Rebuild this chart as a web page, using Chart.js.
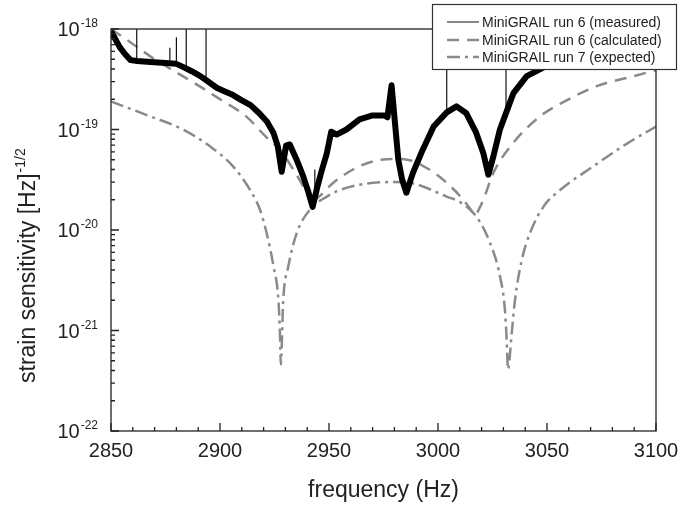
<!DOCTYPE html>
<html>
<head>
<meta charset="utf-8">
<script src="https://cdn.jsdelivr.net/npm/chart.js@4.4.1/dist/chart.umd.min.js"></script>
<style>
html, body { margin: 0; padding: 0; background: #fff; }
</style>
</head>
<body>
<canvas id="chart1" width="679" height="507"></canvas>
<script>
// MiniGRAIL run 6 (measured)
var measFreq = [2850, 2852, 2854, 2856.5, 2859, 2862, 2868, 2875, 2880, 2883,
    2887, 2891, 2895, 2898.5, 2902, 2906, 2910, 2914, 2918, 2921.5,
    2924.5, 2926.5, 2928.3, 2930.3, 2932, 2935, 2938, 2940.5, 2942.5, 2944.5,
    2946.5, 2949, 2951, 2953.5, 2958, 2964, 2970, 2975.5, 2976.8, 2978.7,
    2980.2, 2981.8, 2983.5, 2985.5, 2988.5, 2993, 2998, 3004, 3008.5, 3013,
    3017.5, 3020.8, 3023.1, 3025.4, 3028.4, 3034.6, 3040.7, 3049.8, 3056, 3063,
    3070, 3078, 3085];
var measVal = [9.5e-19, 7.9e-19, 6.6e-19, 5.6e-19, 4.9e-19, 4.8e-19, 4.7e-19, 4.6e-19, 4.5e-19, 4.2e-19,
    3.8e-19, 3.4e-19, 2.95e-19, 2.6e-19, 2.4e-19, 2.2e-19, 1.95e-19, 1.75e-19, 1.45e-19, 1.2e-19,
    9.3e-20, 6.8e-20, 3.8e-20, 6.9e-20, 7.1e-20, 5.1e-20, 3.5e-20, 2.4e-20, 1.7e-20, 2.6e-20,
    3.8e-20, 5.8e-20, 9.5e-20, 8.9e-20, 1.0e-19, 1.26e-19, 1.38e-19, 1.38e-19, 1.32e-19, 2.75e-19,
    1.2e-19, 5.0e-20, 3.2e-20, 2.35e-20, 3.7e-20, 6.3e-20, 1.07e-19, 1.48e-19, 1.7e-19, 1.45e-19,
    9.3e-20, 5.8e-20, 3.55e-20, 5.4e-20, 1.0e-19, 2.3e-19, 3.4e-19, 4.3e-19, 4.7e-19, 5.6e-19,
    7.1e-19, 8.9e-19, 1.05e-18];

// narrow spikes on the measured curve
var spikeFreq = [2861.8, 2877, 2880, 2884.5, 2893.6, 2943.5, 3004, 3031.2];
var spikeBase = [4.8e-19, 4.6e-19, 4.5e-19, 4.1e-19, 3.1e-19, 1.9e-20, 1.48e-19, 1.6e-19];
var spikeTop = [1e-18, 6.5e-19, 8.3e-19, 1e-18, 1e-18, 4e-20, 1e-18, 1e-18];

// MiniGRAIL run 6 (calculated)
var calcFreq = [2850, 2860, 2870, 2880, 2890, 2900, 2912, 2921, 2927.5, 2933.6,
    2938, 2940.5, 2942, 2944, 2946, 2952, 2961, 2970, 2979, 2986,
    2996, 3004, 3011.6, 3015, 3017, 3019, 3021, 3025.4, 3034.6, 3046.8,
    3059, 3072.8, 3091, 3100];
var calcVal = [1.0e-18, 7.1e-19, 5.0e-19, 3.7e-19, 2.75e-19, 2.0e-19, 1.35e-19, 8.5e-20, 6.3e-20, 4.0e-20,
    2.75e-20, 2.1e-20, 1.7e-20, 2.0e-20, 2.2e-20, 2.95e-20, 4.0e-20, 4.8e-20, 5.1e-20, 5.0e-20,
    4.0e-20, 2.95e-20, 2.0e-20, 1.6e-20, 1.4e-20, 1.65e-20, 2.05e-20, 3.7e-20, 7.4e-20, 1.35e-19,
    1.95e-19, 2.7e-19, 3.45e-19, 3.9e-19];

// MiniGRAIL run 7 (expected)
var expFreq = [2850, 2868, 2883, 2895.4, 2906, 2913.8, 2918.3, 2921.4, 2924.5, 2926.8,
    2927.5, 2927.9, 2929, 2931.3, 2935.2, 2941.3, 2949, 2955, 2967.3, 2980,
    2988.7, 3004, 3010, 3017.7, 3023.9, 3028.4, 3030.7, 3031.5, 3032.1, 3033.8,
    3035.3, 3038.4, 3042.2, 3048.3, 3056, 3071.2, 3086.5, 3100];
var expVal = [1.9e-19, 1.35e-19, 1.0e-19, 6.8e-20, 4.3e-20, 2.5e-20, 1.6e-20, 9.3e-21, 4.4e-21, 2.0e-21,
    9.3e-22, 4.6e-22, 2.0e-21, 4.3e-21, 9.3e-21, 1.6e-20, 2.15e-20, 2.5e-20, 2.9e-20, 3.0e-20,
    2.9e-20, 2.15e-20, 1.9e-20, 1.35e-20, 7.4e-21, 3.5e-21, 1.6e-21, 8.1e-22, 4.1e-22, 9.3e-22,
    2.0e-21, 5.0e-21, 9.3e-21, 1.7e-20, 2.5e-20, 4.3e-20, 7.2e-20, 1.07e-19];

var xMin = 2850, xMax = 3100, xStep = 50, xMinorStep = 10;
var yExp = [-18, -19, -20, -21, -22];
var seriesNames = ["MiniGRAIL run 6 (measured)", "MiniGRAIL run 6 (calculated)", "MiniGRAIL run 7 (expected)"];
var xTitle = "frequency (Hz)";
var yTitle = "strain sensitivity [Hz]";
var yTitleSup = "-1/2";

var FONT = "'Liberation Sans', Arial, sans-serif";

function pts(f, v) {
    return f.map(function (x, i) { return { x: x, y: v[i] }; });
}

var spikePts = [];
spikeFreq.forEach(function (f, i) {
    spikePts.push({ x: f, y: spikeBase[i] }, { x: f, y: spikeTop[i] }, { x: f, y: null });
});

var frame = {
    id: 'frame',
    afterDraw: function (chart) {
        var ctx = chart.ctx, a = chart.chartArea;
        var xs = chart.scales.x, ys = chart.scales.y;
        ctx.save();
        ctx.strokeStyle = '#222';
        ctx.lineWidth = 1.3;
        ctx.strokeRect(a.left, a.top, a.right - a.left, a.bottom - a.top);

        // ticks pointing inwards
        ctx.beginPath();
        for (var f = xMin; f <= xMax; f += xMinorStep) {
            var px = xs.getPixelForValue(f);
            var len = (f - xMin) % xStep === 0 ? 8 : 4;
            ctx.moveTo(px, a.bottom);
            ctx.lineTo(px, a.bottom - len);
        }
        yExp.forEach(function (e) {
            var py = ys.getPixelForValue(Math.pow(10, e));
            ctx.moveTo(a.left, py);
            ctx.lineTo(a.left + 8, py);
            if (e > yExp[yExp.length - 1]) {
                for (var m = 2; m <= 9; m++) {
                    var pm = ys.getPixelForValue(m * Math.pow(10, e - 1));
                    ctx.moveTo(a.left, pm);
                    ctx.lineTo(a.left + 4, pm);
                }
            }
        });
        ctx.stroke();

        // y tick labels 10^n
        ctx.fillStyle = '#222';
        ctx.textAlign = 'left';
        ctx.textBaseline = 'alphabetic';
        yExp.forEach(function (e) {
            var py = ys.getPixelForValue(Math.pow(10, e));
            var sup = String(e);
            ctx.font = '12px ' + FONT;
            var ws = ctx.measureText(sup).width;
            var right = a.left - 13;
            ctx.fillText(sup, right - ws, py - 2);
            ctx.font = '20px ' + FONT;
            var wb = ctx.measureText('10').width;
            ctx.fillText('10', right - ws - wb - 1, py + 7);
        });

        // y title with superscript
        ctx.save();
        ctx.translate(35, 383);
        ctx.rotate(-Math.PI / 2);
        ctx.font = '23px ' + FONT;
        ctx.fillText(yTitle, 0, 0);
        var wt = ctx.measureText(yTitle).width;
        ctx.font = '14px ' + FONT;
        ctx.fillText(yTitleSup, wt + 1, -10);
        ctx.restore();

        // legend box
        var lx = 432, ly = 4, lw = 245, lh = 66;
        ctx.fillStyle = '#fff';
        ctx.fillRect(lx, ly, lw, lh);
        ctx.strokeStyle = '#333';
        ctx.lineWidth = 1.2;
        ctx.strokeRect(lx + 0.5, ly + 0.5, lw - 1, lh - 1);
        var rows = [22, 40, 57];
        var styles = [chart.data.datasets[0], chart.data.datasets[2], chart.data.datasets[3]];
        ctx.font = '14px ' + FONT;
        ctx.textBaseline = 'middle';
        seriesNames.forEach(function (name, i) {
            var ds = styles[i];
            ctx.beginPath();
            ctx.strokeStyle = i === 0 ? '#444' : ds.borderColor;
            ctx.lineWidth = i === 0 ? 1.3 : ds.borderWidth;
            ctx.setLineDash(i === 0 ? [] : ds.borderDash);
            ctx.moveTo(447, rows[i]);
            ctx.lineTo(479, rows[i]);
            ctx.stroke();
            ctx.setLineDash([]);
            ctx.fillStyle = '#222';
            ctx.fillText(name, 482, rows[i] + 1);
        });
        ctx.restore();
    }
};

var myChart = new Chart(document.getElementById('chart1'), {
    type: 'line',
    data: {
        datasets: [
            {
                label: seriesNames[0],
                data: pts(measFreq, measVal),
                borderColor: '#000',
                borderWidth: 6,
                borderJoinStyle: 'round',
                pointRadius: 0,
                tension: 0,
                clip: 0
            },
            {
                label: 'spikes',
                data: spikePts,
                borderColor: '#111',
                borderWidth: 1.2,
                pointRadius: 0,
                spanGaps: false,
                clip: 0
            },
            {
                label: seriesNames[1],
                data: pts(calcFreq, calcVal),
                borderColor: '#8a8a8a',
                borderWidth: 2.5,
                borderDash: [12, 8],
                pointRadius: 0,
                cubicInterpolationMode: 'monotone',
                clip: 0
            },
            {
                label: seriesNames[2],
                data: pts(expFreq, expVal),
                borderColor: '#8a8a8a',
                borderWidth: 2.5,
                borderDash: [13, 5, 3, 5],
                pointRadius: 0,
                cubicInterpolationMode: 'monotone',
                clip: 0
            }
        ]
    },
    options: {
        responsive: false,
        animation: false,
        layout: { padding: { top: 29, right: 23, left: 0, bottom: 0 } },
        plugins: { legend: { display: false }, tooltip: { enabled: false } },
        scales: {
            x: {
                type: 'linear',
                min: xMin,
                max: xMax,
                grid: { display: false, drawTicks: false },
                border: { display: false },
                ticks: {
                    stepSize: xStep,
                    padding: 8,
                    color: '#222',
                    font: { size: 20, family: FONT },
                    maxRotation: 0,
                    callback: function (v) { return String(v); }
                },
                title: {
                    display: true,
                    text: xTitle,
                    color: '#222',
                    font: { size: 23, family: FONT },
                    padding: { top: 0, bottom: 3 }
                },
                afterFit: function (s) {
                    s.height = 76;
                    s.paddingLeft = 0;
                    s.paddingRight = 0;
                }
            },
            y: {
                type: 'logarithmic',
                min: 1e-22,
                max: 1e-18,
                grid: { display: false, drawTicks: false },
                border: { display: false },
                ticks: { display: false },
                afterFit: function (s) { s.width = 111; }
            }
        }
    },
    plugins: [frame]
});
</script>
</body>
</html>
